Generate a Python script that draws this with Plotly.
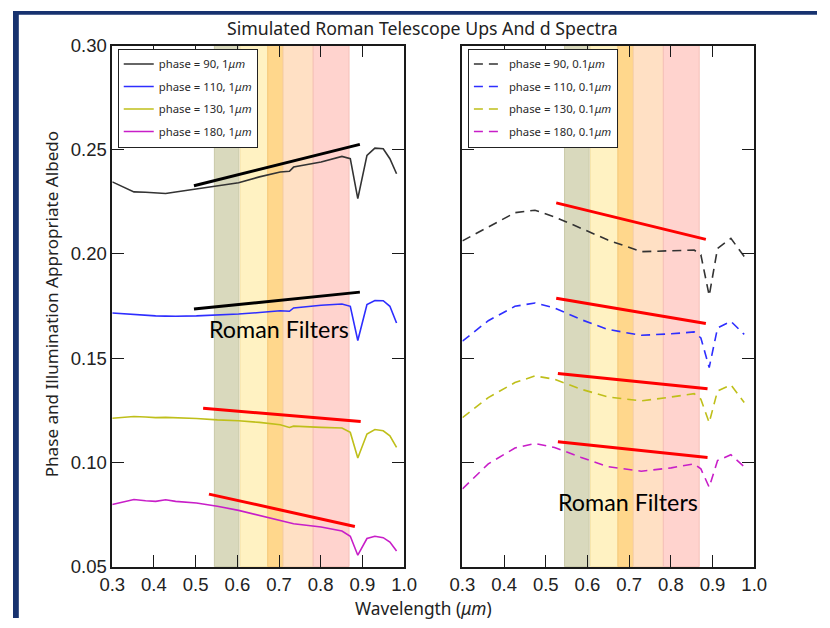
import plotly.graph_objects as go

# ---------------- data ----------------
wl_1um = [0.300, 0.352, 0.380, 0.404, 0.428, 0.452, 0.502, 0.552, 0.603, 0.653, 0.703,
          0.725, 0.735, 0.801, 0.851, 0.871, 0.889, 0.911, 0.930, 0.950, 0.966, 0.982]
p90_1um = [0.2346, 0.2298, 0.2296, 0.2293, 0.2290, 0.2297, 0.2311, 0.2325, 0.2342, 0.2370, 0.2393,
           0.2397, 0.2417, 0.2441, 0.2468, 0.2457, 0.2266, 0.2473, 0.2508, 0.2505, 0.2457, 0.2385]
p110_1um = [0.1717, 0.1709, 0.1705, 0.1703, 0.1702, 0.1701, 0.1703, 0.1706, 0.1712, 0.1719, 0.1728,
            0.1725, 0.1741, 0.1754, 0.1760, 0.1749, 0.1585, 0.1757, 0.1777, 0.1776, 0.1749, 0.1669]
p130_1um = [0.1212, 0.1220, 0.1218, 0.1215, 0.1216, 0.1215, 0.1211, 0.1204, 0.1200, 0.1192, 0.1181,
            0.1168, 0.1174, 0.1168, 0.1165, 0.1144, 0.1021, 0.1136, 0.1158, 0.1152, 0.1128, 0.1072]
p180_1um = [0.0798, 0.0822, 0.0816, 0.0813, 0.0821, 0.0813, 0.0805, 0.0790, 0.0770, 0.0746, 0.0725,
            0.0712, 0.0706, 0.0690, 0.0671, 0.0646, 0.0555, 0.0635, 0.0646, 0.0639, 0.0618, 0.0575]

wl_01um = [0.300, 0.362, 0.426, 0.474, 0.521, 0.585, 0.649, 0.729, 0.801, 0.856, 0.872,
           0.892, 0.912, 0.944, 0.976]
p90_01um = [0.2063, 0.2130, 0.2198, 0.2210, 0.2178, 0.2123, 0.2067, 0.2011, 0.2015, 0.2019, 0.1996,
            0.1800, 0.2027, 0.2075, 0.1988]
p110_01um = [0.1582, 0.1680, 0.1749, 0.1765, 0.1741, 0.1685, 0.1638, 0.1610, 0.1617, 0.1626, 0.1597,
             0.1455, 0.1645, 0.1677, 0.1614]
p130_01um = [0.1215, 0.1311, 0.1383, 0.1415, 0.1399, 0.1351, 0.1314, 0.1295, 0.1314, 0.1330, 0.1303,
             0.1191, 0.1343, 0.1372, 0.1287]
p180_01um = [0.0873, 0.0993, 0.1069, 0.1091, 0.1072, 0.1024, 0.0980, 0.0958, 0.0974, 0.0993, 0.0969,
             0.0881, 0.1009, 0.1037, 0.0979]

# trend segments
trend_left_x = [[0.496, 0.894], [0.496, 0.894], [0.518, 0.896], [0.532, 0.882]]
trend_left_y = [[0.2327, 0.2526], [0.1736, 0.1817], [0.1260, 0.1196], [0.0848, 0.0693]]
trend_right_x = [[0.525, 0.884], [0.525, 0.884], [0.529, 0.888], [0.529, 0.888]]
trend_right_y = [[0.2245, 0.2070], [0.1788, 0.1666], [0.1427, 0.1354], [0.1099, 0.1024]]

# Roman filter bands (wavelength, micron)
band_lo = [0.545, 0.607, 0.673, 0.710, 0.782]
band_hi = [0.604, 0.673, 0.710, 0.782, 0.868]

phases = [90, 110, 130, 180]
x_ticks = [0.3, 0.4, 0.5, 0.6, 0.7, 0.8, 0.9, 1.0]
y_ticks = [0.05, 0.10, 0.15, 0.20, 0.25, 0.30]

# ---------------- style / layout ----------------
curve_colors = ["#333333", "#2e2eff", "#bfbf1a", "#c81ec8"]
trend_left_colors = ["#000000", "#000000", "#ff0000", "#ff0000"]
band_fill = ["#d9d9bd", "#fff2c2", "#ffd78c", "#ffe0c4", "#ffd3ce"]
band_line = ["#c9c9a8", "#f7e3a8", "#f5c878", "#f5d0b0", "#f5c0b8"]
W, H = 830, 628
FONT_C = "Noto Sans"
FRAME = "#17326f"
# the photographed page shows up slightly inset and scaled; compensate
OX, OY, S = 12.0, 8.3, 0.971


def fx(img_x):
    return ((img_x - OX) / S) / W


def fy(img_y):
    return 1 - ((img_y - OY) / S) / H


def fs(size):
    return size / S


fig = go.Figure()

left_sets = [p90_1um, p110_1um, p130_1um, p180_1um]
right_sets = [p90_01um, p110_01um, p130_01um, p180_01um]

for i, (ph, ys) in enumerate(zip(phases, left_sets)):
    fig.add_trace(go.Scatter(
        x=wl_1um, y=ys, mode="lines", xaxis="x", yaxis="y",
        line=dict(color=curve_colors[i], width=1.6),
        name=f"phase = {ph}, 1<i>μm</i>", legend="legend",
        legendgroup=f"L{i}"))

for i, (ph, ys) in enumerate(zip(phases, right_sets)):
    fig.add_trace(go.Scatter(
        x=wl_01um, y=ys, mode="lines", xaxis="x2", yaxis="y2",
        line=dict(color=curve_colors[i], width=1.6, dash="9px,6px"),
        name=f"phase = {ph}, 0.1<i>μm</i>", legend="legend2",
        legendgroup=f"R{i}"))

for i in range(4):
    fig.add_trace(go.Scatter(x=trend_left_x[i], y=trend_left_y[i], mode="lines",
                             xaxis="x", yaxis="y", showlegend=False,
                             line=dict(color=trend_left_colors[i], width=3)))
    fig.add_trace(go.Scatter(x=trend_right_x[i], y=trend_right_y[i], mode="lines",
                             xaxis="x2", yaxis="y2", showlegend=False,
                             line=dict(color="#ff0000", width=3)))

shapes = []
for xr, yr in (("x", "y"), ("x2", "y2")):
    for lo, hi, fc, lc in zip(band_lo, band_hi, band_fill, band_line):
        shapes.append(dict(type="rect", xref=xr, yref=f"{yr} domain", x0=lo, x1=hi,
                           y0=0, y1=1, fillcolor=fc, line=dict(color=lc, width=1),
                           layer="below"))

# slide frame (top and left edges)
shapes.append(dict(type="rect", xref="paper", yref="paper", x0=0, x1=1,
                   y0=1 - 4 / H, y1=1, fillcolor=FRAME, line=dict(width=0)))
shapes.append(dict(type="rect", xref="paper", yref="paper", x0=0, x1=6 / W,
                   y0=0, y1=1, fillcolor=FRAME, line=dict(width=0)))

axis_common = dict(showline=True, linecolor="#1a1a1a", linewidth=1.5, mirror="ticks",
                   ticks="inside", ticklen=12, tickwidth=1.3, tickcolor="#1a1a1a",
                   showgrid=False, zeroline=False,
                   tickfont=dict(family="Liberation Sans", size=fs(18), color="#222222"))

fig.update_layout(
    width=W, height=H, autosize=False,
    margin=dict(l=0, r=0, t=0, b=0, pad=0),
    paper_bgcolor="white", plot_bgcolor="white",
    showlegend=True,
    xaxis=dict(domain=[fx(111.5), fx(404)], range=[0.3, 1.0],
               tickvals=x_ticks, tickformat=".1f", anchor="y", **axis_common),
    yaxis=dict(domain=[fy(566.5), fy(43)], range=[0.05, 0.30],
               tickvals=y_ticks, tickformat=".2f", anchor="x", **axis_common),
    xaxis2=dict(domain=[fx(462.5), fx(755)], range=[0.3, 1.0],
                tickvals=x_ticks, tickformat=".1f", anchor="y2", **axis_common),
    yaxis2=dict(domain=[fy(566.5), fy(43)], range=[0.05, 0.30],
                tickvals=y_ticks, showticklabels=False, anchor="x2", **axis_common),
    legend=dict(x=fx(117), y=fy(46), xanchor="left", yanchor="top",
                bgcolor="white", bordercolor="#222222", borderwidth=1,
                font=dict(family=FONT_C, size=fs(11), color="#2a2a2a"),
                traceorder="grouped", tracegroupgap=3.5),
    legend2=dict(x=fx(468), y=fy(46), xanchor="left", yanchor="top",
                 bgcolor="white", bordercolor="#222222", borderwidth=1,
                 font=dict(family=FONT_C, size=fs(11), color="#2a2a2a"),
                 traceorder="grouped", tracegroupgap=3.5),
    shapes=shapes,
    annotations=[
        dict(text="Simulated Roman Telescope Ups And d Spectra", xref="paper", yref="paper",
             x=fx(422), y=fy(25), xanchor="center", yanchor="middle", showarrow=False,
             font=dict(family=FONT_C, size=fs(17.2), color="#222222")),
        dict(text="Wavelength (<i>μm</i>)", xref="paper", yref="paper",
             x=fx(423), y=fy(609), xanchor="center", yanchor="middle", showarrow=False,
             font=dict(family=FONT_C, size=fs(16.8), color="#222222")),
        dict(text="Phase and Illumination Appropriate Albedo", xref="paper", yref="paper",
             x=fx(50), y=fy(303), xanchor="center", yanchor="middle", showarrow=False,
             textangle=-90, font=dict(family=FONT_C, size=fs(16.6), color="#222222")),
        dict(text="Roman Filters", xref="x", yref="y", x=0.700, y=0.1639,
             xanchor="center", yanchor="middle", showarrow=False,
             font=dict(family="Lato", size=fs(22.6), color="#000000")),
        dict(text="Roman Filters", xref="x2", yref="y2", x=0.698, y=0.0808,
             xanchor="center", yanchor="middle", showarrow=False,
             font=dict(family="Lato", size=fs(22.6), color="#000000")),
    ],
)

post = (
    "document.documentElement.style.cssText='margin:0;padding:0;overflow:hidden';"
    "document.body.style.cssText='margin:0;padding:0;overflow:hidden';"
)

fig.write_html("out.html", config={"displayModeBar": False}, post_script=post)
